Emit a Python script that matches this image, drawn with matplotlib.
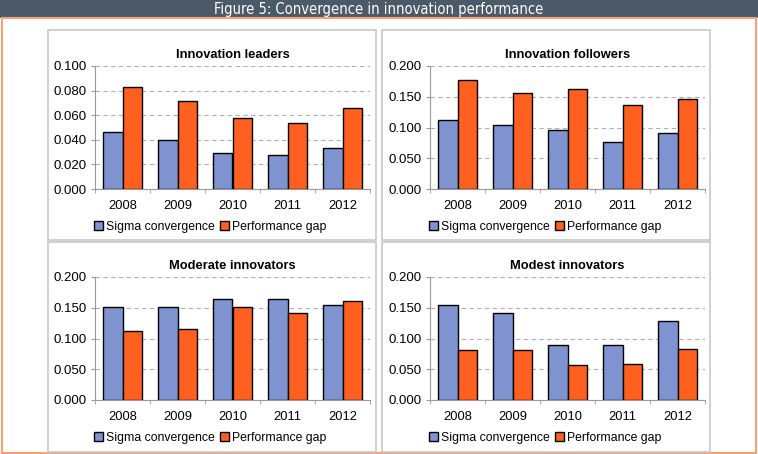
import numpy as np
import matplotlib.pyplot as plt
from matplotlib.patches import Rectangle

plt.rcParams['font.family'] = ['Liberation Sans', 'DejaVu Sans']

# Dados
anos = ['2008', '2009', '2010', '2011', '2012']
titulos = ['Innovation leaders', 'Innovation followers',
           'Moderate innovators', 'Modest innovators']

sigma_leaders = [0.046, 0.040, 0.0295, 0.0276, 0.033]
gap_leaders = [0.083, 0.0715, 0.058, 0.054, 0.066]

sigma_followers = [0.112, 0.104, 0.096, 0.077, 0.091]
gap_followers = [0.177, 0.156, 0.163, 0.137, 0.146]

sigma_moderate = [0.152, 0.152, 0.165, 0.165, 0.154]
gap_moderate = [0.112, 0.116, 0.151, 0.141, 0.161]

sigma_modest = [0.154, 0.141, 0.090, 0.090, 0.129]
gap_modest = [0.081, 0.081, 0.057, 0.059, 0.083]

ymax = [0.100, 0.200, 0.200, 0.200]
ypasso = [0.020, 0.050, 0.050, 0.050]

cor_sigma = '#7f93d1'
cor_gap = '#ff5f1f'

W, H = 758, 454
fig = plt.figure(figsize=(W / 100, H / 100), dpi=100)

# barra do título
fig.add_artist(Rectangle((0, 1 - 18 / H), 1, 18 / H, transform=fig.transFigure,
                         facecolor='#4b5a68', edgecolor='none', zorder=-5))
fig.text(0.5, 1 - 9.5 / H, 'Figure 5: Convergence in innovation performance',
         color='white', ha='center', va='center', fontsize=10.5,
         family='DejaVu Sans', fontstretch='condensed')
# moldura laranja
fig.add_artist(Rectangle((1.5 / W, 1.5 / H), (W - 3) / W, (H - 19.5) / H,
                         transform=fig.transFigure, facecolor='none',
                         edgecolor='#f5a27a', linewidth=1.5, zorder=-5))

def px_axes(x0, y0, x1, y1):
    # coordenadas em pixels (origem no topo)
    return [x0 / W, 1 - y1 / H, (x1 - x0) / W, (y1 - y0) / H]

paineis = [(48, 30, 376, 240), (382, 30, 710, 240),
           (48, 242, 376, 452), (382, 242, 710, 452)]
eixos = [(95, 66, 370, 189), (430, 66, 705, 189),
         (95, 277, 370, 400), (430, 277, 705, 400)]
dados = [(sigma_leaders, gap_leaders), (sigma_followers, gap_followers),
         (sigma_moderate, gap_moderate), (sigma_modest, gap_modest)]

x = np.arange(len(anos))
larg = 0.36

for i in range(4):
    p = paineis[i]
    fig.add_artist(Rectangle((p[0] / W, 1 - p[3] / H), (p[2] - p[0]) / W,
                             (p[3] - p[1]) / H, transform=fig.transFigure,
                             facecolor='white', edgecolor='#c8c8c8',
                             linewidth=1.2, zorder=-4))
    ax = fig.add_axes(px_axes(*eixos[i]))
    ax.patch.set_alpha(0)
    sigma, gap = dados[i]
    b1 = ax.bar(x - larg / 2, sigma, larg, color=cor_sigma, edgecolor='black',
                linewidth=1, label='Sigma convergence', zorder=3)
    b2 = ax.bar(x + larg / 2, gap, larg, color=cor_gap, edgecolor='black',
                linewidth=1, label='Performance gap', zorder=3)
    ax.set_xlim(-0.5, 4.5)
    ax.set_ylim(0, ymax[i])
    ax.set_yticks(np.arange(0, ymax[i] + 1e-9, ypasso[i]))
    ax.set_yticklabels(['%.3f' % v for v in np.arange(0, ymax[i] + 1e-9, ypasso[i])])
    ax.set_xticks(x)
    ax.set_xticklabels(anos)
    ax.set_xticks(np.arange(-0.5, 5, 1), minor=True)
    ax.tick_params(axis='x', which='major', length=0, pad=8, labelsize=9.3)
    ax.tick_params(axis='x', which='minor', length=3, color='#999999')
    ax.tick_params(axis='y', length=3, color='#999999', labelsize=9.5, pad=3)
    ax.grid(axis='y', linestyle=(0, (4, 3)), color='#b0b0b0', linewidth=0.8, zorder=0)
    for s in ['top', 'right']:
        ax.spines[s].set_visible(False)
    for s in ['left', 'bottom']:
        ax.spines[s].set_color('#999999')
    ax.set_title(titulos[i], fontsize=9.3, fontweight='bold', pad=6)
    ax.legend(handles=[b1, b2], loc='upper center', bbox_to_anchor=(0.42, -0.22),
              ncol=2, frameon=False, fontsize=8.8, handlelength=0.7,
              handleheight=0.7, handletextpad=0.3, columnspacing=0.4,
              borderaxespad=0)

fig.savefig('out.png', dpi=100)
